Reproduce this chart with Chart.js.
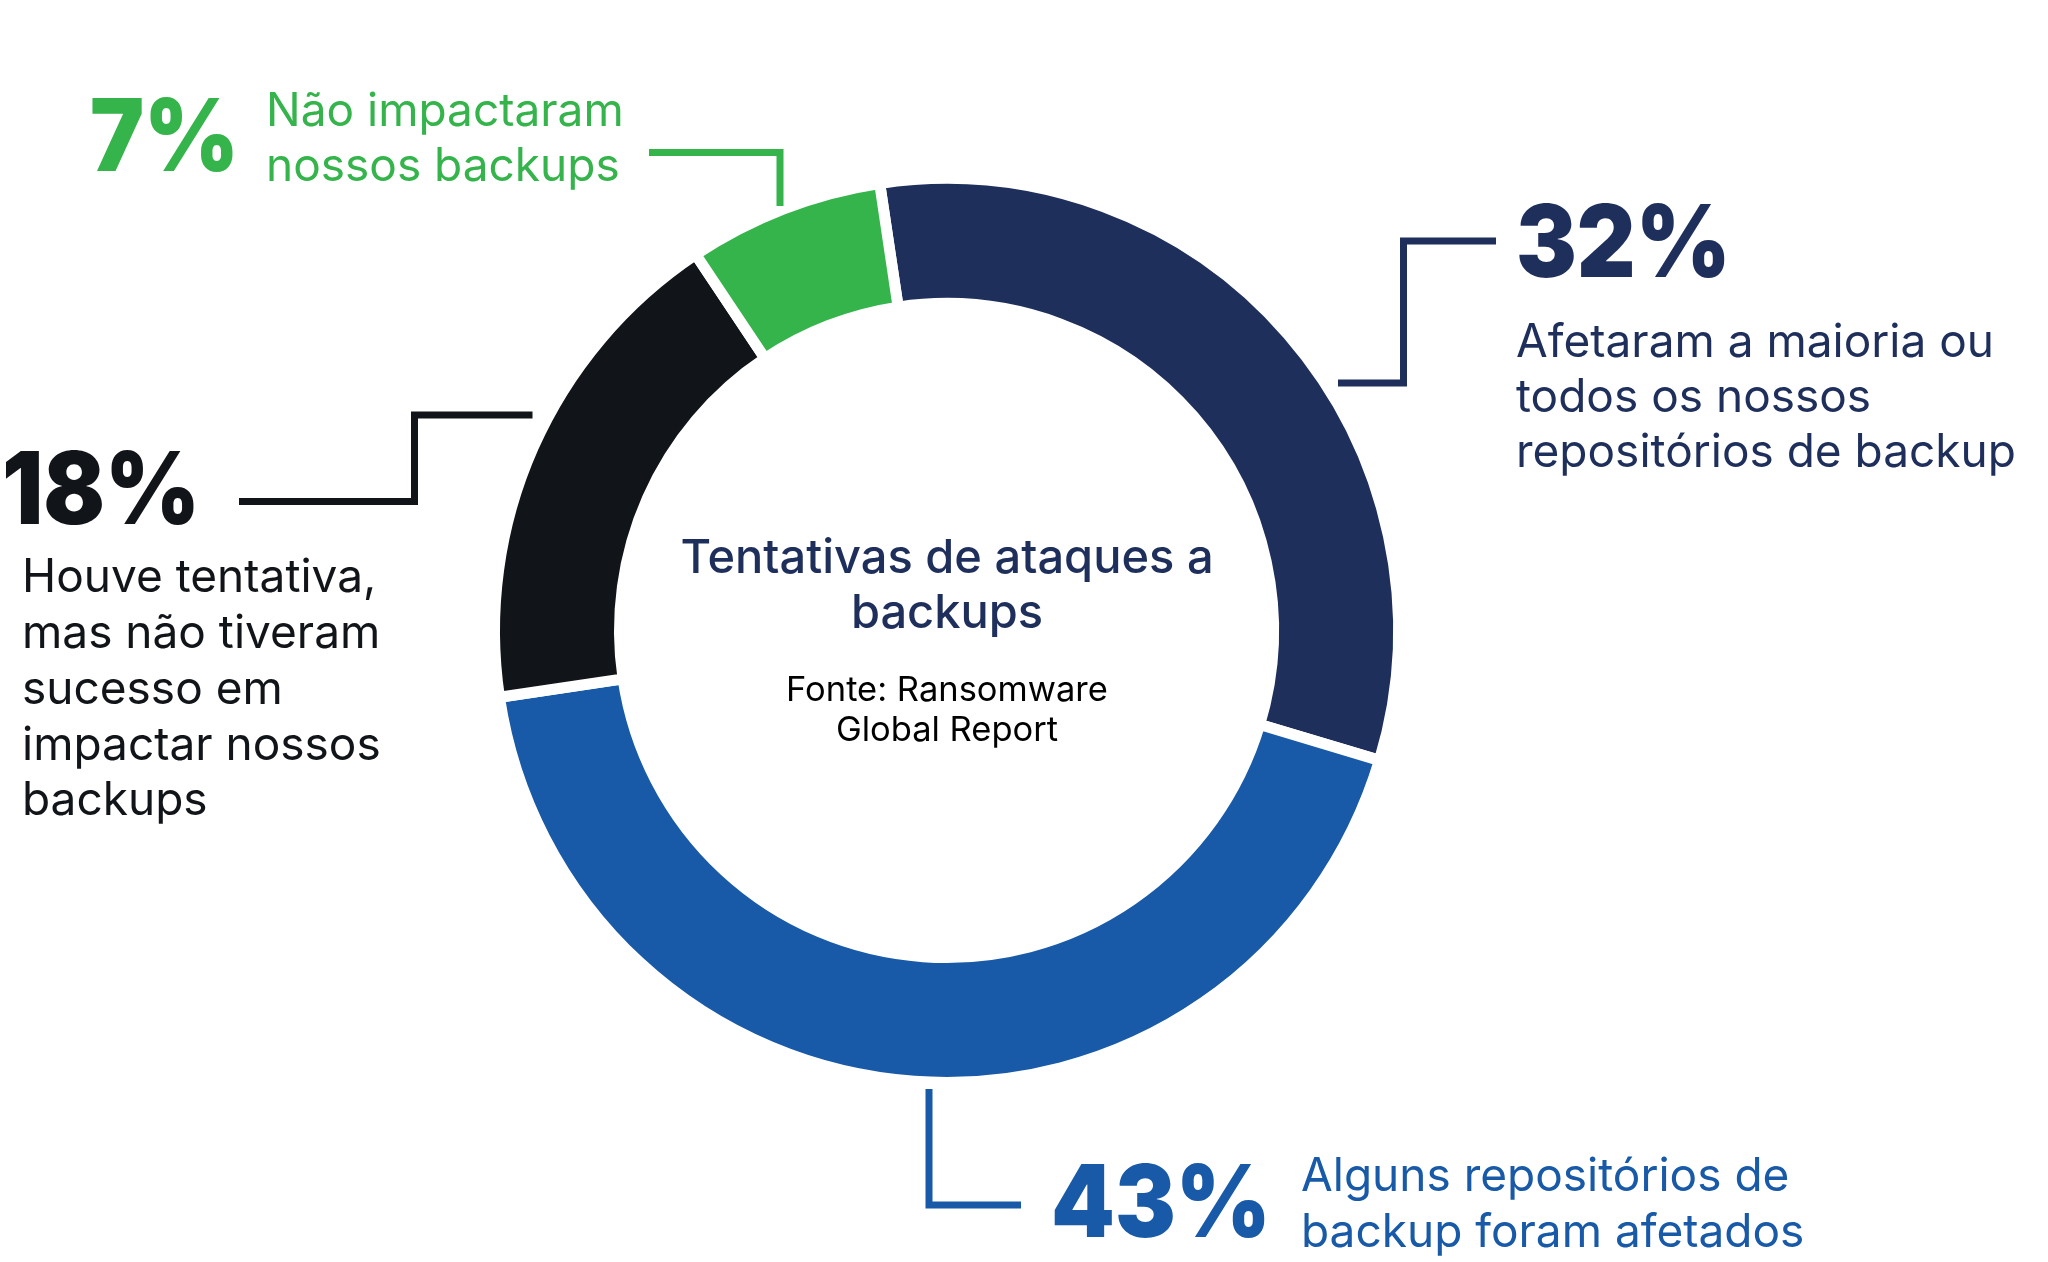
<!DOCTYPE html>
<html>
<head>
<meta charset="utf-8">
<script src="https://cdn.jsdelivr.net/npm/chart.js@4"></script>
<style>
    html, body { margin: 0; padding: 0; background: #fff; }
    #wrap { position: relative; width: 2048px; height: 1262px; overflow: hidden; font-family: Inter, "Noto Sans", sans-serif; }
    #chartBox { position: absolute; left: 0; top: 0; width: 2048px; height: 1262px; }
    .lbl { position: absolute; white-space: pre; }
    .big { transform: scaleX(0.91); transform-origin: left center; }
</style>
</head>
<body>
<div id="wrap">
    <div id="chartBox"><canvas id="myChart"></canvas></div>
</div>
<script>
// data
var categories = [
    'Afetaram a maioria ou\ntodos os nossos\nrepositórios de backup',
    'Alguns repositórios de\nbackup foram afetados',
    'Houve tentativa,\nmas não tiveram\nsucesso em\nimpactar nossos\nbackups',
    'Não impactaram\nnossos backups'
];
var values = [32, 43, 18, 7];
var colors = ['#1F2F5C', '#185AA7', '#111418', '#35B44C'];
var title = ['Tentativas de ataques a', 'backups'];
var source = ['Fonte: Ransomware', 'Global Report'];

// Inter metrics for placing text by baseline
function topFromBaseline(baseline, size, lh) {
    return baseline - ((lh - 1.2109 * size) / 2 + 0.96875 * size);
}

function addLabel(text, x, baseline, size, lh, weight, color, align, cls) {
    var d = document.createElement('div');
    d.className = 'lbl' + (cls ? ' ' + cls : '');
    d.textContent = text;
    d.style.fontSize = size + 'px';
    d.style.lineHeight = lh + 'px';
    d.style.fontWeight = weight;
    d.style.color = color;
    d.style.top = topFromBaseline(baseline, size, lh) + 'px';
    if (align === 'center') {
        d.style.left = (x - 400) + 'px';
        d.style.width = '800px';
        d.style.textAlign = 'center';
    } else {
        d.style.left = x + 'px';
    }
    document.getElementById('wrap').appendChild(d);
}

// big numbers + descriptions
var bigPos = [[1516, 277], [1051, 1237], [2, 524], [90, 171]];
var descPos = [[1516, 357, 55], [1301, 1192, 55.6], [22, 593, 55.7], [266, 126, 55]];
values.forEach(function(v, i) {
    addLabel(v + '%', bigPos[i][0], bigPos[i][1], 100, 100, 900, colors[i], 'left', 'big');
    addLabel(categories[i], descPos[i][0], descPos[i][1], 46, descPos[i][2], 400, colors[i]);
});
addLabel(title.join('\n'), 947, 573, 47, 55, 500, '#1F2F5C', 'center');
addLabel(source.join('\n'), 947, 702, 34.5, 40, 400, '#000000', 'center');

// leader lines
var leaders = [
    [[1338, 383], [1403.5, 383], [1403.5, 241], [1496, 241]],
    [[929, 1089], [929, 1205], [1021, 1205]],
    [[239, 501.5], [414.5, 501.5], [414.5, 415], [532.5, 415]],
    [[649, 152.5], [780, 152.5], [780, 206]]
];

var leaderPlugin = {
    id: 'leaders',
    afterDraw: function(chart) {
        var ctx = chart.ctx;
        ctx.save();
        ctx.lineWidth = 7;
        ctx.lineJoin = 'miter';
        ctx.lineCap = 'butt';
        leaders.forEach(function(pts, i) {
            ctx.strokeStyle = colors[i];
            ctx.beginPath();
            pts.forEach(function(p, j) {
                if (j === 0) ctx.moveTo(p[0], p[1]); else ctx.lineTo(p[0], p[1]);
            });
            ctx.stroke();
        });
        ctx.restore();
    }
};

var ctx = document.getElementById('myChart').getContext('2d');
var myChart = new Chart(ctx, {
    type: 'doughnut',
    data: {
        labels: categories,
        datasets: [{
            data: values,
            backgroundColor: colors,
            borderColor: '#ffffff',
            borderWidth: 11,
            hoverOffset: 0
        }]
    },
    options: {
        responsive: true,
        maintainAspectRatio: false,
        animation: false,
        events: [],
        rotation: -8.5,
        radius: 452,
        cutout: '72.35%',
        layout: { padding: { left: 0, right: 155, top: 0, bottom: 1 } },
        plugins: {
            legend: { display: false },
            tooltip: { enabled: false }
        }
    },
    plugins: [leaderPlugin]
});
</script>
</body>
</html>
